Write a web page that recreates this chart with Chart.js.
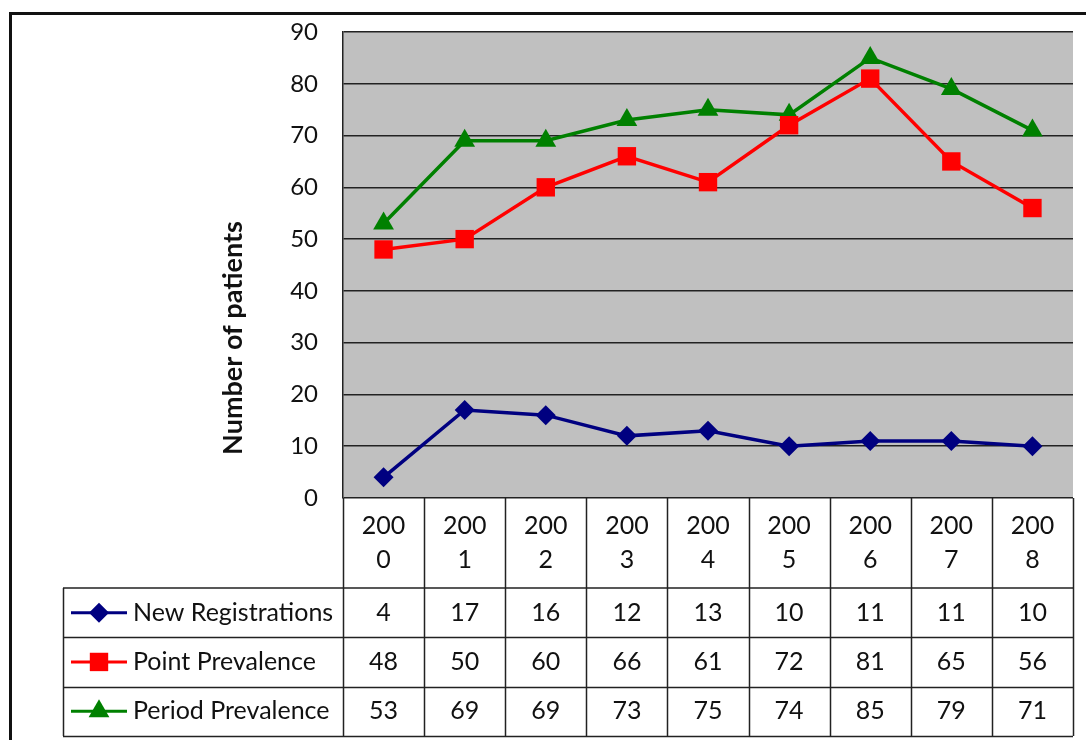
<!DOCTYPE html>
<html>
<head>
<meta charset="utf-8">
<script src="https://cdn.jsdelivr.net/npm/chart.js@4/dist/chart.umd.min.js"></script>
<style>
  html, body { margin: 0; padding: 0; background: #fff; }
  #wrap { width: 1086px; height: 740px; }
</style>
</head>
<body>
<div id="wrap"><canvas id="c" width="1086" height="740"></canvas></div>
<script>
// Yearly patient counts
const years = ['2000', '2001', '2002', '2003', '2004', '2005', '2006', '2007', '2008'];
const newRegistrations = [4, 17, 16, 12, 13, 10, 11, 11, 10];
const pointPrevalence = [48, 50, 60, 66, 61, 72, 81, 65, 56];
const periodPrevalence = [53, 69, 69, 73, 75, 74, 85, 79, 71];
const yMin = 0, yMax = 90, yStep = 10;
const yTitle = 'Number of patients';

const FONT = 'Lato, "Noto Sans", sans-serif';
const INK = '#111';

const series = [
  { label: 'New Registrations', data: newRegistrations, color: '#000080', style: 'rectRot', radius: 10 },
  { label: 'Point Prevalence',  data: pointPrevalence,  color: '#FF0000', style: 'rect',    radius: 13 },
  { label: 'Period Prevalence', data: periodPrevalence, color: '#008000', style: 'triangle', radius: 12 }
];

// Grey plot background, white page
const backdrop = {
  id: 'backdrop',
  beforeDraw(chart) {
    const { ctx, chartArea: a } = chart;
    ctx.save();
    ctx.fillStyle = '#fff';
    ctx.fillRect(0, 0, chart.width, chart.height);
    ctx.fillStyle = '#C0C0C0';
    ctx.fillRect(a.left, a.top, a.right - a.left, a.bottom - a.top);
    ctx.restore();
  }
};

// Data table under the plot, axis title and outer frame
const dataTable = {
  id: 'dataTable',
  afterDraw(chart) {
    const { ctx, chartArea: a } = chart;
    const xs = chart.scales.x;
    const n = years.length;
    const colW = (a.right - a.left) / n;
    const headerH = 90, rowH = 49.3;
    const top = a.bottom;
    const rowsTop = top + headerH;
    const tableLeft = 63;
    const bottom = rowsTop + rowH * series.length;

    ctx.save();
    ctx.strokeStyle = '#222';
    ctx.lineWidth = 1.5;
    ctx.beginPath();
    // column dividers through header and rows
    for (let i = 0; i <= n; i++) {
      const x = Math.round(a.left + i * colW) + 0.5;
      ctx.moveTo(x, top);
      ctx.lineTo(x, bottom);
    }
    // row lines
    ctx.moveTo(tableLeft, rowsTop); ctx.lineTo(a.right, rowsTop);
    for (let r = 1; r <= series.length; r++) {
      const y = Math.round(rowsTop + r * rowH) + 0.5;
      ctx.moveTo(tableLeft, y); ctx.lineTo(a.right, y);
    }
    ctx.moveTo(tableLeft + 0.5, rowsTop); ctx.lineTo(tableLeft + 0.5, bottom);
    ctx.stroke();

    ctx.fillStyle = INK;
    ctx.font = '25px ' + FONT;
    ctx.textAlign = 'center';
    ctx.textBaseline = 'middle';
    // category header, wrapped like a narrow cell
    years.forEach((yr, i) => {
      const cx = xs.getPixelForValue(i);
      ctx.fillText(yr.slice(0, 3), cx, top + 28);
      ctx.fillText(yr.slice(3), cx, top + 62);
    });
    // value rows
    series.forEach((s, r) => {
      const cy = rowsTop + r * rowH + rowH / 2;
      s.data.forEach((v, i) => {
        ctx.fillText(String(v), xs.getPixelForValue(i), cy);
      });
      // legend key
      ctx.strokeStyle = s.color;
      ctx.lineWidth = 3;
      ctx.beginPath();
      ctx.moveTo(71, cy); ctx.lineTo(127, cy);
      ctx.stroke();
      ctx.fillStyle = s.color;
      Chart.helpers.drawPoint(ctx, { pointStyle: s.style, radius: s.radius, rotation: 0, borderWidth: 0 }, 99, cy);
      ctx.fillStyle = INK;
      ctx.textAlign = 'left';
      ctx.fillText(s.label, 133, cy);
      ctx.textAlign = 'center';
    });

    // rotated axis title
    ctx.save();
    ctx.translate(233, 338);
    ctx.rotate(-Math.PI / 2);
    ctx.font = 'bold 27px ' + FONT;
    ctx.fillStyle = INK;
    ctx.fillText(yTitle, 0, 0);
    ctx.restore();

    // outer frame
    ctx.strokeStyle = '#111';
    ctx.lineWidth = 3;
    ctx.beginPath();
    ctx.moveTo(10.5, 760);
    ctx.lineTo(10.5, 13.5);
    ctx.lineTo(1100, 13.5);
    ctx.stroke();
    ctx.restore();
  }
};

new Chart(document.getElementById('c'), {
  type: 'line',
  data: {
    labels: years,
    datasets: series.map(s => ({
      label: s.label,
      data: s.data,
      borderColor: s.color,
      backgroundColor: s.color,
      borderWidth: 3.5,
      pointStyle: s.style,
      pointRadius: s.radius,
      pointHoverRadius: s.radius,
      pointBorderWidth: 0,
      tension: 0,
      fill: false
    }))
  },
  options: {
    responsive: false,
    animation: false,
    devicePixelRatio: 1,
    layout: { padding: { top: 32, right: 12, bottom: 242, left: 0 } },
    plugins: {
      legend: { display: false },
      tooltip: { enabled: false },
      title: { display: false }
    },
    scales: {
      x: {
        type: 'category',
        offset: true,
        display: false
      },
      y: {
        min: yMin,
        max: yMax,
        ticks: {
          stepSize: yStep,
          padding: 8,
          color: INK,
          font: { family: FONT, size: 24 }
        },
        grid: { color: '#222', lineWidth: 1.5, drawTicks: true, tickLength: 17, tickColor: 'rgba(0,0,0,0)' },
        border: { display: true, color: '#222', width: 1.5 },
        afterFit(scale) { scale.width = 343; }
      }
    }
  },
  plugins: [backdrop, dataTable]
});
</script>
</body>
</html>
